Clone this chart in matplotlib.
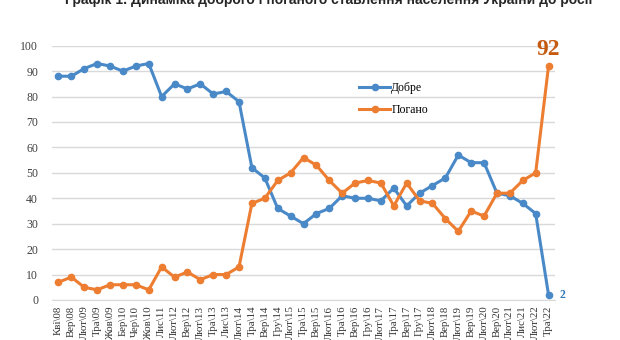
import matplotlib
matplotlib.use('Agg')
import matplotlib.pyplot as plt

# labels of the survey waves
labels = ['Кві\\08', 'Вер\\08', 'Лют\\09', 'Тра\\09', 'Жов\\09', 'Бер\\10', 'Чер\\10',
          'Жов\\10', 'Лис\\11', 'Лют\\12', 'Вер\\12', 'Лют\\13', 'Тра\\13', 'Лис\\13',
          'Лют\\14', 'Тра\\14', 'Вер\\14', 'Гру\\14', 'Лют\\15', 'Тра\\15', 'Вер\\15',
          'Лют\\16', 'Тра\\16', 'Вер\\16', 'Гру\\16', 'Лют\\17', 'Тра\\17', 'Вер\\17',
          'Гру\\17', 'Лют\\18', 'Вер\\18', 'Лют\\19', 'Вер\\19', 'Лют\\20', 'Вер\\20',
          'Лют\\21', 'Лис\\21', 'Лют\\22', 'Тра\\22']
good = [88, 88, 91, 93, 92, 90, 92, 93, 80, 85, 83, 85, 81, 82, 78, 52, 48, 36, 33, 30,
        34, 36, 41, 40, 40, 39, 44, 37, 42, 45, 48, 57, 54, 54, 42, 41, 38, 34, 2]
bad = [7, 9, 5, 4, 6, 6, 6, 4, 13, 9, 11, 8, 10, 10, 13, 38, 40, 47, 50, 56,
       53, 47, 42, 46, 47, 46, 37, 46, 39, 38, 32, 27, 35, 33, 42, 42, 47, 50, 92]

blue = '#4a89c8'
orange = '#ed7d31'
serif = ['Liberation Serif', 'DejaVu Serif']

fig = plt.figure(figsize=(6.2, 3.4), dpi=100)
ax = fig.add_axes([52 / 620, 1 - 300 / 340, 503 / 620, 254.3 / 340])

x = list(range(len(labels)))
ax.plot(x, good, '-o', color=blue, lw=2.2, ms=4.5, label='Добре')
ax.plot(x, bad, '-o', color=orange, lw=2.2, ms=4.5, label='Погано')

ax.set_xlim(-0.5, len(labels) - 0.5)
ax.set_ylim(0, 100)
ax.set_yticks(range(0, 101, 10))
ax.set_xticks(x)
ax.set_xticklabels(labels, rotation=90, family=serif, fontsize=7.8, color='#333333')
for t in ax.get_yticklabels():
    t.set_family(serif)
    t.set_fontsize(8.5)
    t.set_color('#404040')
ax.tick_params(axis='y', length=0, pad=10)
ax.tick_params(axis='x', length=0, pad=4)
ax.grid(axis='y', color='#d9d9d9', lw=1)
ax.set_axisbelow(True)
for side in ['top', 'right', 'left']:
    ax.spines[side].set_visible(False)
ax.spines['bottom'].set_color('#d9d9d9')

# value labels on the last point
ax.annotate(str(bad[-1]), (x[-1], bad[-1]), xytext=(0, 4), textcoords='offset points',
            ha='center', va='bottom', fontsize=17, fontweight='bold',
            color='#c55a11', family=serif)
ax.annotate(str(good[-1]), (x[-1], good[-1]), xytext=(8, 0), textcoords='offset points',
            ha='left', va='center', fontsize=8.5, fontweight='bold',
            color='#2e75b6', family=serif)

ax.legend(loc='upper left', bbox_to_anchor=(0.59, 0.9), frameon=False,
          prop={'family': serif, 'size': 8.5}, handlelength=2.6, handletextpad=0.1,
          labelspacing=0.9)

fig.text(0.53, 1 - 4 / 340, 'Графік 1. Динаміка доброго і поганого ставлення населення України до росії',
         ha='center', va='baseline', fontsize=10, fontweight='bold', color='#262626',
         family=['Liberation Sans', 'DejaVu Sans'])

fig.savefig('out.png', dpi=100)
